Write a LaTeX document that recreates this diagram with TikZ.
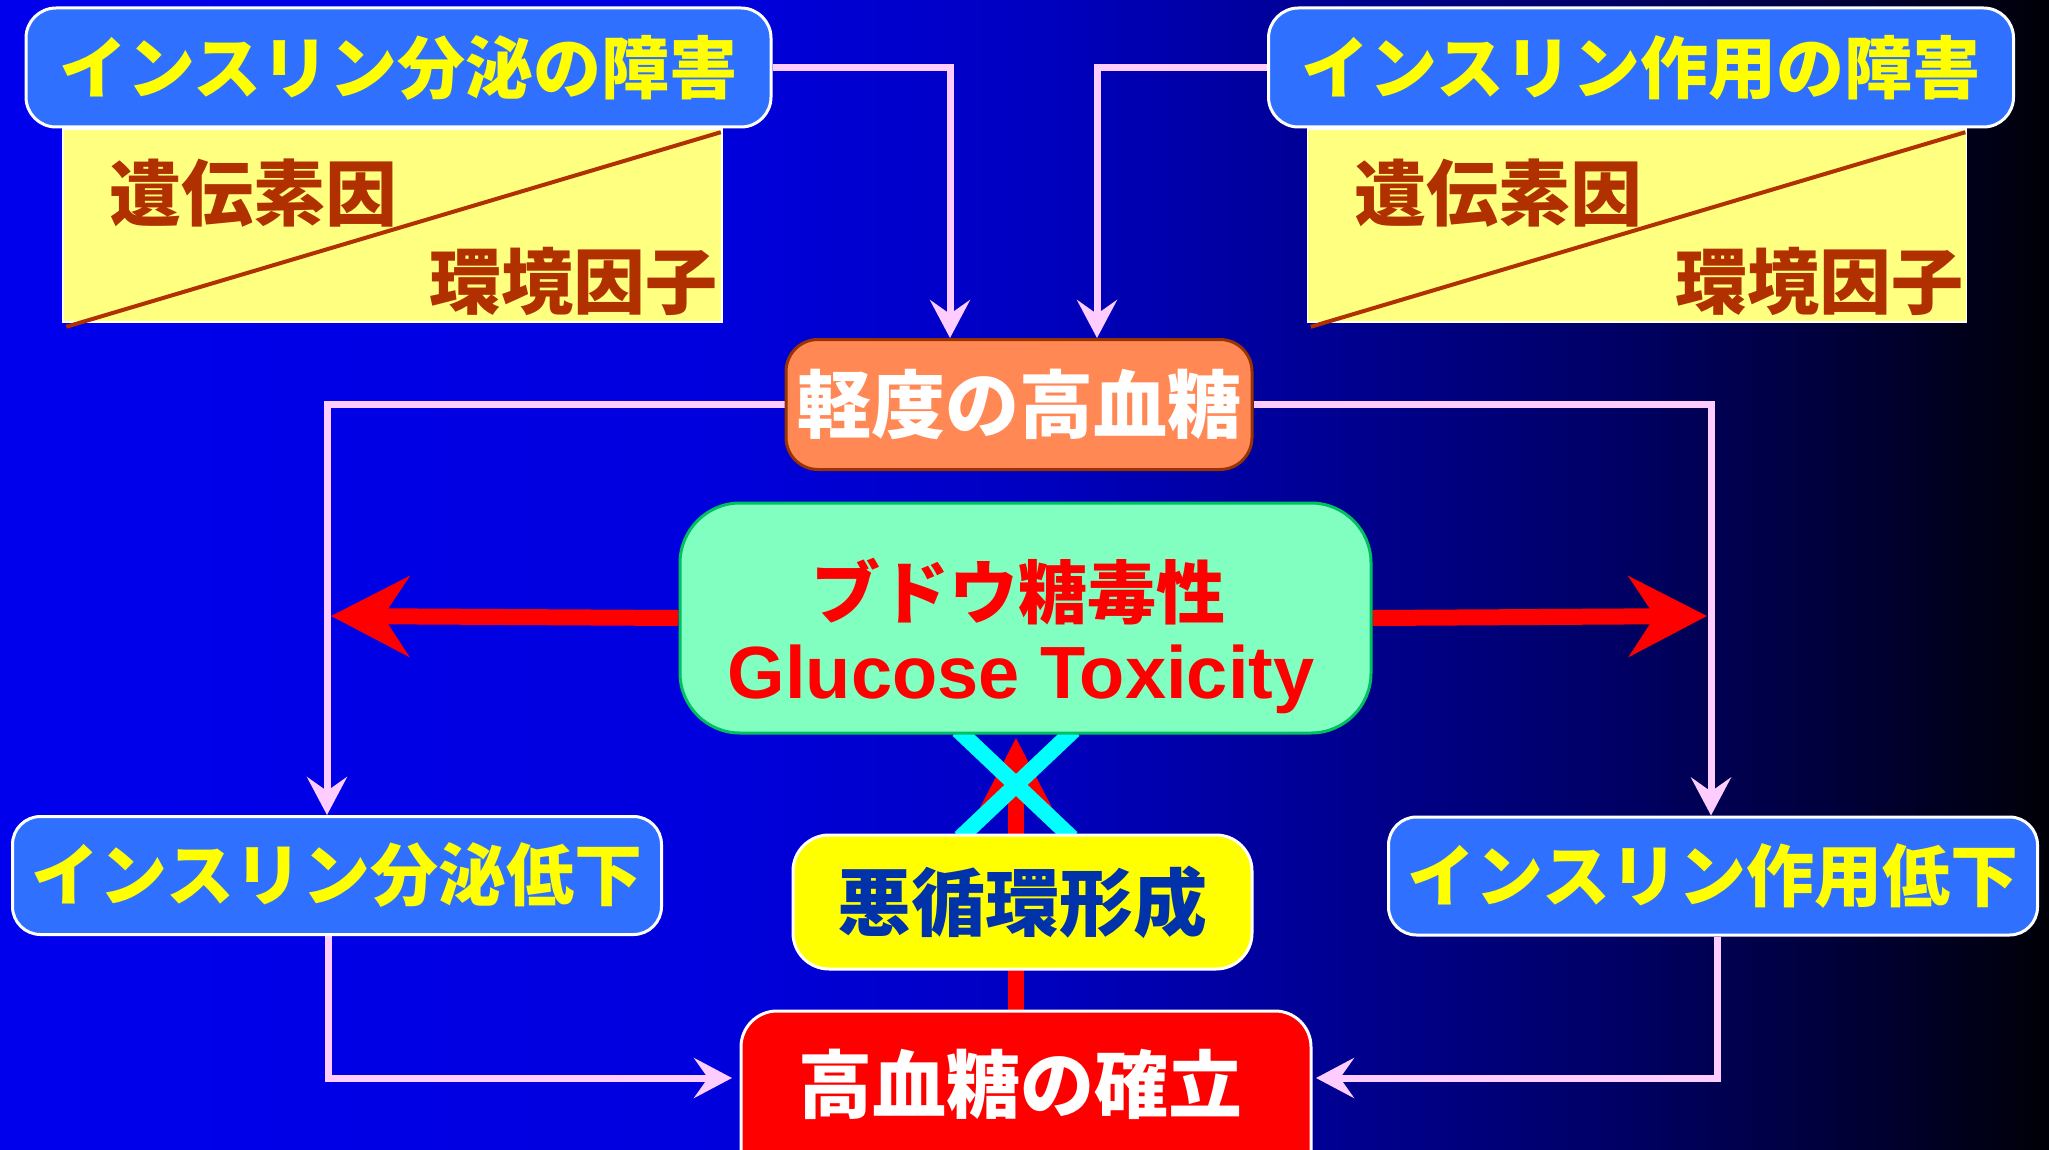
\documentclass[tikz,border=0pt]{standalone}
\usepackage{fontspec}
\setmainfont{Liberation Sans}
\newfontfamily\jp{Noto Sans CJK JP}
\usetikzlibrary{arrows.meta}
\pgfdeclarelayer{bg}
\pgfsetlayers{bg,main}
\definecolor{boxblue}{HTML}{3070FF}
\definecolor{linkpink}{HTML}{FFCCFF}
\definecolor{panelyel}{HTML}{FFFF80}
\definecolor{causebrown}{HTML}{B03000}
\definecolor{mildfill}{HTML}{FF8855}
\definecolor{mildborder}{HTML}{993300}
\definecolor{toxfill}{HTML}{80FFC0}
\definecolor{toxborder}{HTML}{00C060}
\definecolor{vicblue}{HTML}{0033AA}
\definecolor{xcyan}{RGB}{0,255,255}
\definecolor{pureyellow}{RGB}{255,255,0}
\definecolor{purered}{RGB}{255,0,0}
\pgfdeclarehorizontalshading{bgshade}{100bp}{rgb(0bp)=(0,0,0.93); rgb(25bp)=(0,0,0.93); rgb(42bp)=(0,0,0.87); rgb(50bp)=(0,0,0.76); rgb(58bp)=(0,0,0.56); rgb(65bp)=(0,0,0.38); rgb(70bp)=(0,0,0.22); rgb(75bp)=(0,0,0.03); rgb(100bp)=(0,0,0.03)}
\begin{document}
\begin{tikzpicture}[x=0.5pt,y=-0.5pt,
  titlebox/.style={draw=white, line width=1.5pt, fill=boxblue, rounded corners=15pt, text=pureyellow,
    font=\jp\bfseries\fontsize{34}{34}\selectfont, inner sep=0pt, minimum width=372.5pt, minimum height=59.5pt},
  panel/.style={draw=white, line width=0.8pt, fill=panelyel, inner sep=0pt, minimum width=329.5pt, minimum height=96.5pt},
  causetext/.style={text=causebrown, font=\jp\bfseries\fontsize{36}{36}\selectfont, inner sep=0pt},
  lowbox/.style={draw=white, line width=1.5pt, fill=boxblue, rounded corners=14pt, text=pureyellow,
    font=\jp\bfseries\fontsize{34}{34}\selectfont, inner sep=0pt, minimum width=324.5pt, minimum height=59pt},
  pinkarrow/.style={draw=linkpink, line width=3.5pt, -{Stealth[length=19pt,width=20pt,inset=7pt]}},
  redarrow/.style={draw=purered, line width=8pt, -{Stealth[length=39pt,width=40pt,inset=13pt]}},
  crossline/.style={draw=xcyan, line width=8pt}
]
\useasboundingbox (0,0) rectangle (2049,1150);
\clip (0,0) rectangle (2049,1150);
\begin{pgfonlayer}{bg}
  \shade[shading=bgshade] (0,0) rectangle (2049,1150);
\end{pgfonlayer}

% top boxes
\node[titlebox] (boxA) at (398.5,67.5) {インスリン分泌の障害};
\node[titlebox] (boxB) at (1641,67.5) {インスリン作用の障害};

% panels
\node[panel] (panA) at (392.5,225.5) {};
\draw[causebrown, line width=2pt] ([shift={(2pt,-2pt)}]panA.south west) -- ([shift={(-1pt,-2pt)}]panA.north east);
\node[causetext] (genA) at (253,193) {遺伝素因};
\node[causetext] (envA) at (573,281) {環境因子};

\node[panel] (panB) at (1637,225.5) {};
\draw[causebrown, line width=2pt] ([shift={(2pt,-2pt)}]panB.south west) -- ([shift={(-1pt,-2pt)}]panB.north east);
\node[causetext] (genB) at (1498,193) {遺伝素因};
\node[causetext] (envB) at (1819,281) {環境因子};

% mild hyperglycemia
\node[draw=mildborder, line width=1.5pt, fill=mildfill, rounded corners=16pt, text=white,
  font=\jp\bfseries\fontsize{37}{37}\selectfont, inner sep=0pt, minimum width=233pt, minimum height=65pt]
  (mild) at (1019,404.5) {軽度の高血糖};

% glucose toxicity
\node[draw=toxborder, line width=1.5pt, fill=toxfill, rounded corners=30pt, inner sep=0pt,
  minimum width=345.5pt, minimum height=115pt] (tox) at (1025.5,618) {};
\node[text=purered, font=\jp\bfseries\fontsize{34.5}{34.5}\selectfont, inner sep=0pt] (toxJ) at (1018,592) {ブドウ糖毒性};
\node[text=purered, font=\bfseries\fontsize{37}{37}\selectfont, inner sep=0pt] (toxE) at (1021,679) {Glucose Toxicity};

% lowered secretion / action
\node[lowbox] (lowL) at (337,875.5) {インスリン分泌低下};
\node[lowbox] (lowR) at (1713,876) {インスリン作用低下};

% vicious cycle
\node[draw=white, line width=1.5pt, fill=pureyellow, rounded corners=18pt, text=vicblue,
  font=\jp\bfseries\fontsize{37}{37}\selectfont, inner sep=0pt, minimum width=229.5pt, minimum height=67pt]
  (vic) at (1022.5,902) {悪循環形成};

% established hyperglycemia
\node[draw=white, line width=1.5pt, fill=purered, rounded corners=18pt, inner sep=0pt,
  minimum width=285pt, minimum height=89.5pt] (fin) at (1026,1100.5) {};
\node[text=white, font=\jp\bfseries\fontsize{37}{37}\selectfont, inner sep=0pt] (finT) at (1020,1084) {高血糖の確立};

% coordinates for free ends
\coordinate (tipL) at (331,616);
\coordinate (tipR) at (1707,616);
\coordinate (tipU) at (1016,738);
\coordinate (finL) at (732,1078);
\coordinate (finR) at (1316,1078);
\coordinate (xa1) at (958,730);
\coordinate (xa2) at (1072,838);
\coordinate (xb1) at (1074,730);
\coordinate (xb2) at (960,838);

\begin{pgfonlayer}{bg}
  \draw[pinkarrow] (boxA.east) -| ([xshift=-34.5pt]mild.north);
  \draw[pinkarrow] (boxB.west) -| ([xshift=39pt]mild.north);
  \draw[pinkarrow] (mild.west) -| ([xshift=-5pt]lowL.north);
  \draw[pinkarrow] (mild.east) -| ([xshift=-1pt]lowR.north);
  \draw[pinkarrow] ([xshift=-4.5pt]lowL.south) |- (finL);
  \draw[pinkarrow] ([xshift=2pt]lowR.south) |- (finR);
  \draw[redarrow] (tox.west) -- (tipL);
  \draw[redarrow] (tox.east) -- (tipR);
  \draw[redarrow] (fin.north -| tipU) -- (tipU);
  \draw[crossline] (xa1) -- (xa2);
  \draw[crossline] (xb1) -- (xb2);
\end{pgfonlayer}
\end{tikzpicture}
\end{document}
